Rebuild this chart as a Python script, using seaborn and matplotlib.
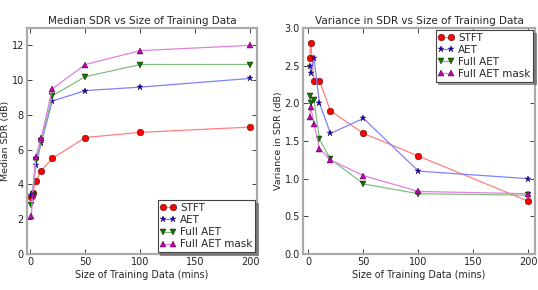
import pandas as pd
import matplotlib
matplotlib.use('Agg')
import matplotlib.pyplot as plt
import seaborn as sns

# training data sizes (mins)
sizes = [1, 2, 5, 10, 20, 50, 100, 200]
series = ['STFT', 'AET', 'Full AET', 'Full AET mask']

# median SDR (dB)
median_stft = [3.3, 3.5, 4.2, 4.8, 5.5, 6.7, 7.0, 7.3]
median_aet = [3.4, 3.5, 5.1, 6.4, 8.8, 9.4, 9.6, 10.1]
median_full = [2.8, 3.4, 5.4, 6.5, 9.1, 10.2, 10.9, 10.9]
median_mask = [2.2, 3.4, 5.6, 6.7, 9.5, 10.9, 11.7, 12.0]

# variance in SDR (dB)
var_stft = [2.6, 2.8, 2.3, 2.3, 1.9, 1.6, 1.3, 0.7]
var_aet = [2.5, 2.4, 2.6, 2.0, 1.6, 1.8, 1.1, 1.0]
var_full = [2.1, 2.0, 2.04, 1.52, 1.26, 0.93, 0.80, 0.78]
var_mask = [1.82, 1.95, 1.73, 1.4, 1.25, 1.04, 0.83, 0.80]

colors = ['#ff0000', '#0000ff', '#007f00', '#bf00bf']
line_colors = ['#ff8080', '#8080ff', '#80bf80', '#e080e0']
markers = ['o', '*', 'v', '^']
msizes = [4.8, 5, 4.8, 4.8]

sns.set_style('white')
plt.rcParams['font.family'] = ['DejaVu Sans']

fig = plt.figure(figsize=(5.38, 2.9), dpi=100)
ax1 = fig.add_axes([27 / 538, 1 - 254 / 290, 230 / 538, 226 / 290])
ax2 = fig.add_axes([303 / 538, 1 - 254 / 290, 232 / 538, 226 / 290])

panels = [
    (ax1, [median_stft, median_aet, median_full, median_mask],
     'Median SDR vs Size of Training Data', 'Median SDR (dB)', (0, 13), (-3, 206), 'lower right'),
    (ax2, [var_stft, var_aet, var_full, var_mask],
     'Variance in SDR vs Size of Training Data', 'Variance in SDR (dB)', (0, 3), (-5, 206), 'upper right'),
]

for ax, vals, title, ylabel, ylim, xlim, loc in panels:
    df = pd.DataFrame({'size': sizes * 4,
                       'value': sum(vals, []),
                       'method': [s for s in series for _ in sizes]})
    for i, name in enumerate(series):
        sub = df[df['method'] == name]
        sns.lineplot(data=sub, x='size', y='value', ax=ax, color=line_colors[i],
                     marker=markers[i], markersize=msizes[i],
                     markerfacecolor=colors[i], markeredgecolor='#330000',
                     markeredgewidth=0.3, linewidth=0.9, label=name)
    ax.set_xlim(*xlim)
    ax.set_ylim(*ylim)
    ax.set_xticks([0, 50, 100, 150, 200])
    ax.set_title(title, fontsize=7.5, pad=3)
    ax.set_xlabel('Size of Training Data (mins)', fontsize=6.9, labelpad=2)
    ax.set_ylabel(ylabel, fontsize=6.8, labelpad=1)
    ax.tick_params(direction='in', length=3.5, width=0.6, labelsize=7.0,
                   colors='#222222', top=True, right=True, bottom=True, left=True, pad=2.2)
    for sp in ax.spines.values():
        sp.set_visible(True)
        sp.set_color('#aaaaaa')
        sp.set_linewidth(1.6)
    leg = ax.legend(loc=loc, fontsize=7.5, numpoints=2, fancybox=False,
                    shadow=True, borderpad=0.25, labelspacing=0.2,
                    handlelength=1.5, handletextpad=0.4, borderaxespad=0.2)
    leg.get_frame().set_edgecolor('#444444')
    leg.get_frame().set_linewidth(0.8)
    leg.get_frame().set_alpha(1)

plt.savefig('out.png', dpi=100)
